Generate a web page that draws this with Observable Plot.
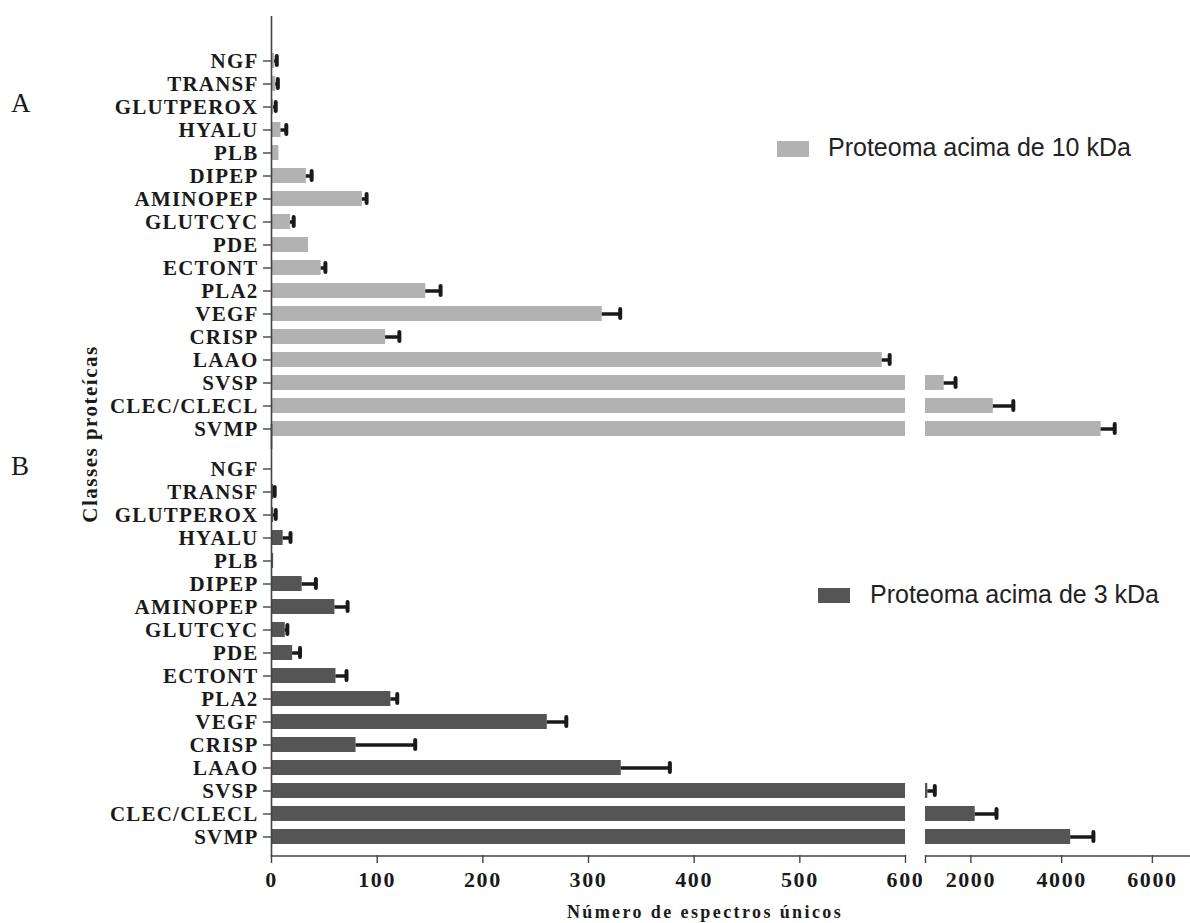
<!DOCTYPE html>
<html><head><meta charset="utf-8">
<script src="https://cdn.jsdelivr.net/npm/d3@7"></script>
<script src="https://cdn.jsdelivr.net/npm/@observablehq/plot@0.6"></script>
<style>
body{margin:0;background:#fff;}
#wrap{position:relative;width:1190px;height:923px;overflow:hidden;background:#fff;}
#wrap svg{position:absolute;left:0;top:0;}
.abs{position:absolute;white-space:nowrap;}
.serif{font-family:"Liberation Serif","Times New Roman",serif;color:#1a1a1a;}
.sans{font-family:"Liberation Sans",Arial,sans-serif;color:#222;font-size:25px;line-height:25px;}
.sw{position:absolute;}
</style></head><body><div id="wrap"></div>
<script>
// Categories (top to bottom)
const classes = ["NGF","TRANSF","GLUTPEROX","HYALU","PLB","DIPEP","AMINOPEP","GLUTCYC","PDE","ECTONT","PLA2","VEGF","CRISP","LAAO","SVSP","CLEC/CLECL","SVMP"];
// Panel A: Proteoma acima de 10 kDa
const mean10 = [3,4,2,9,7,33,86,18,35,47,146,313,108,578,1412,2495,4870];
const err10  = [2,2,2,5,0,5,4,3,0,4,14,17,13,7,250,440,300];
// Panel B: Proteoma acima de 3 kDa
const mean3 = [0,2,2,11,2,29,60,13,20,61,113,261,80,331,1050,2095,4200];
const err3  = [0,1,2,7,0,13,12,2,7,10,6,18,56,46,155,470,500];
const groups = ["A","B"];
const legendLabels = ["Proteoma acima de 10 kDa","Proteoma acima de 3 kDa"];
const xTicks = [0,100,200,300,400,500,600,1000,2000,4000,6000];
const breakLow = 600, breakHigh = 1000, xMax = 6840;

const colA = "#b2b2b2", colB = "#555555", ink = "#1a1a1a", axisCol = "#444";

const rows = [];
groups.forEach((g, gi) => classes.forEach((c, i) => {
  rows.push({g, cls: c, v: gi === 0 ? mean10[i] : mean3[i], e: gi === 0 ? err10[i] : err3[i]});
}));
const leftBars = rows.map(d => ({...d, x1: 0, x2: Math.min(d.v, breakLow)}));
const rightBars = rows.filter(d => d.v > breakHigh).map(d => ({...d, x1: breakHigh, x2: d.v}));
const errs = rows.filter(d => d.e > 0);

const plot = Plot.plot({
  width: 1190, height: 923,
  marginTop: 41, marginBottom: 68, marginLeft: 271, marginRight: 0,
  style: {fontFamily: "Liberation Serif, Times New Roman, serif", fontWeight: "bold", fontSize: "21px", color: ink, letterSpacing: "1.2px", background: "transparent", overflow: "visible"},
  x: {type: "linear", domain: [0, breakLow, breakHigh, xMax], range: [271, 905, 925, 1190]},
  y: {domain: classes, paddingInner: 0.35, paddingOuter: 0.5, align: 0.5},
  fy: {domain: groups, paddingInner: 0.005, paddingOuter: 0, axis: null, label: null},
  marks: [
    Plot.barX(leftBars.filter(d => d.g === "A"), {x1: "x1", x2: "x2", y: "cls", fy: "g", fill: colA}),
    Plot.barX(rightBars.filter(d => d.g === "A"), {x1: "x1", x2: "x2", y: "cls", fy: "g", fill: colA}),
    Plot.barX(leftBars.filter(d => d.g === "B"), {x1: "x1", x2: "x2", y: "cls", fy: "g", fill: colB}),
    Plot.barX(rightBars.filter(d => d.g === "B"), {x1: "x1", x2: "x2", y: "cls", fy: "g", fill: colB}),
    Plot.ruleY(errs, {x1: "v", x2: d => d.v + d.e, y: "cls", fy: "g", stroke: ink, strokeWidth: 3.5}),
    Plot.tickX(errs, {x: d => d.v + d.e, y: "cls", fy: "g", stroke: ink, strokeWidth: 4, strokeLinecap: "round", insetTop: 3, insetBottom: 3}),
    Plot.ruleX(groups.map(g => ({g})), {x: 0, fy: "g", stroke: axisCol, strokeWidth: 1.6, insetTop: -25, insetBottom: -2}),
    Plot.ruleY([{g: "B", a: 0, b: breakLow}, {g: "B", a: breakHigh, b: xMax}], {x1: "a", x2: "b", y: () => "SVMP", fy: "g", dy: 19, stroke: axisCol, strokeWidth: 1.6}),
    Plot.axisY({tickSize: 8, tickPadding: 5, fontSize: 21, fontWeight: "bold", label: null, stroke: axisCol, strokeWidth: 1.4}),
    Plot.axisX({ticks: xTicks, tickFormat: d => d === breakHigh ? "" : String(d), tickSize: 8, tickPadding: 8, fontSize: 22, fontWeight: "bold", label: null, stroke: axisCol, strokeWidth: 1.4})
  ]
});

const wrap = document.getElementById("wrap");
wrap.appendChild(plot);
d3.select(plot).selectAll('g[aria-label="x-axis tick label"]').style("letter-spacing", "1.6px");

function addDiv(cls, text, css) {
  const el = document.createElement("div");
  el.className = "abs " + cls;
  el.textContent = text;
  Object.assign(el.style, css);
  wrap.appendChild(el);
  return el;
}
// panel letters
addDiv("serif", "A", {left: "11px", top: "90px", fontSize: "27px", lineHeight: "27px"});
addDiv("serif", "B", {left: "11px", top: "453px", fontSize: "27px", lineHeight: "27px"});
// y title
addDiv("serif", "Classes proteícas", {fontSize: "21px", lineHeight: "21px", fontWeight: "bold", letterSpacing: "1.5px", left: "90px", top: "434px", transform: "translate(-50%,-50%) rotate(-90deg)"});
// x title
addDiv("serif", "Número de espectros únicos", {fontSize: "18px", lineHeight: "18px", fontWeight: "bold", letterSpacing: "2.4px", left: "705px", top: "903px", transform: "translateX(-50%)"});
// legends
function swatch(l, t, w, h, c) {
  const s = document.createElement("div");
  s.className = "sw";
  Object.assign(s.style, {left: l + "px", top: t + "px", width: w + "px", height: h + "px", background: c});
  wrap.appendChild(s);
}
swatch(777, 141, 32, 16, colA);
addDiv("sans", legendLabels[0], {left: "828px", top: "135px"});
swatch(818, 588, 32, 15, colB);
addDiv("sans", legendLabels[1], {left: "870px", top: "582px"});
</script></body></html>
